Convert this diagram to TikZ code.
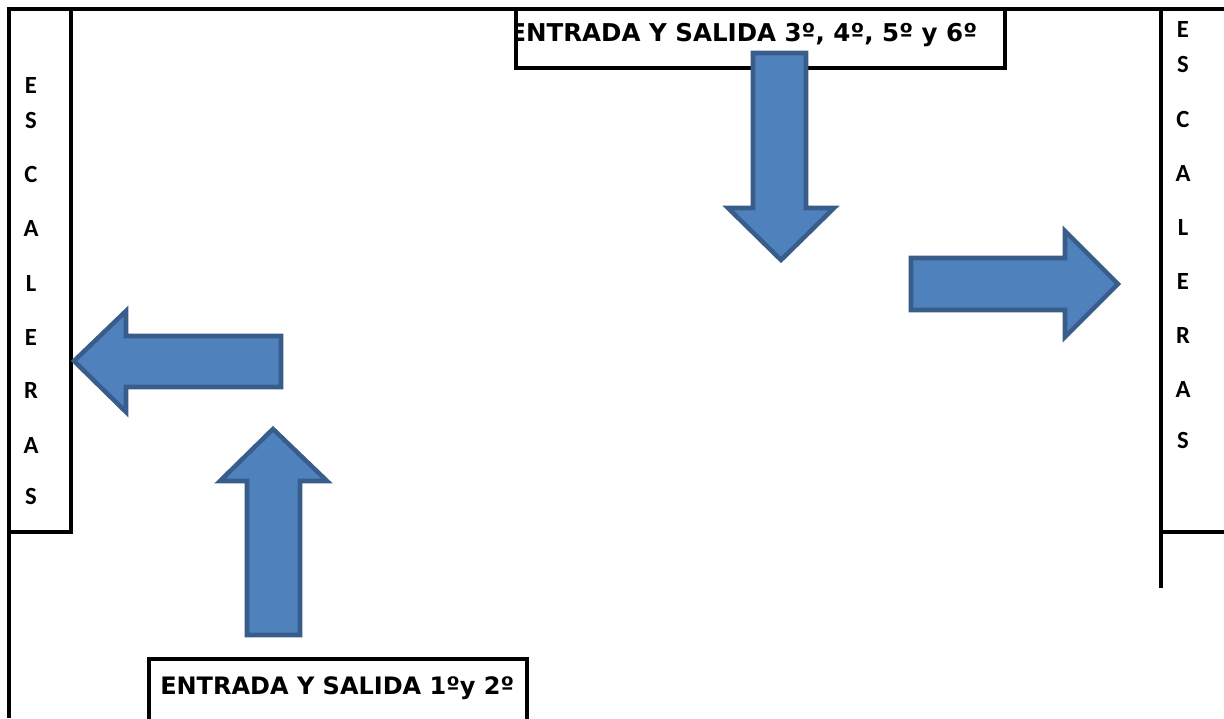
\documentclass[tikz,border=0pt]{standalone}
\usepackage{fontspec}
\setmainfont{DejaVu Sans}
\newfontfamily\calfont{Carlito}
\definecolor{arrfill}{HTML}{4F81BD}
\definecolor{arrline}{HTML}{385D8A}
\begin{document}
\begin{tikzpicture}[x=0.75pt,y=-0.75pt,
  frame/.style={line width=2.3pt},
  bigarrow/.style={fill=arrfill,draw=arrline,line width=3.4pt,line join=miter},
  letter/.style={font=\calfont\bfseries\fontsize{18.5}{20}\selectfont,inner sep=0pt,anchor=base},
  entry/.style={font=\bfseries\fontsize{18}{20}\selectfont,inner sep=0pt,anchor=base west}]
\useasboundingbox (0,0) rectangle (1224,718);
% frame lines
\coordinate (tl) at (9,9);
\coordinate (tr) at (1224,9);
\coordinate (bl) at (9,718);
\draw[frame] (tr) -- (tl) -- (bl);
\draw[frame] (71,9) -- (71,532) -- (9,532);
\draw[frame] (1161,9) -- (1161,588);
\draw[frame] (1161,532) -- (1224,532);
% top box
\begin{scope}
\clip (516,9) rectangle (1005,68);
\node[entry,font=\bfseries\fontsize{18.4}{20}\selectfont] (top) at (509,41) {ENTRADA Y SALIDA 3º, 4º, 5º y 6º};
\end{scope}
\draw[frame] (516,9) rectangle (1005,68);
% bottom box
\node[entry] (bot) at (160,694) {ENTRADA Y SALIDA 1ºy 2º};
\draw[frame] (527,720) -- (527,659) -- (149,659) -- (149,720);
% left letters
\foreach \t/\y [count=\i] in {E/93,S/128,C/182,A/236,L/291,E/345,R/398,A/453,S/504}
  \node[letter] (l\i) at (31,\y) {\t};
\foreach \t/\y [count=\i] in {E/37,S/72,C/127,A/181,L/235,E/289,R/343,A/397,S/448}
  \node[letter] (r\i) at (1183,\y) {\t};
% arrows
\draw[bigarrow] (753,53) -- (806,53) -- (806,208) -- (834,208) -- (781,260) -- (728,208) -- (753,208) -- cycle;
\draw[bigarrow] (911,258) -- (1065,258) -- (1065,231) -- (1118,284) -- (1065,337) -- (1065,310) -- (911,310) -- cycle;
\draw[bigarrow] (281,336) -- (126,336) -- (126,311) -- (74,361) -- (126,412) -- (126,387) -- (281,387) -- cycle;
\draw[bigarrow] (247,635) -- (300,635) -- (300,481) -- (327,481) -- (273,429) -- (220,481) -- (247,481) -- cycle;
\end{tikzpicture}
\end{document}
